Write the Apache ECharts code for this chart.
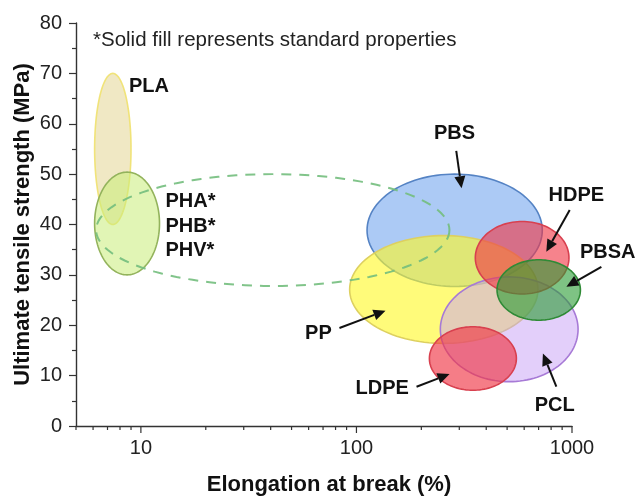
<!DOCTYPE html>
<html>
<head>
<meta charset="utf-8">
<script src="https://cdn.jsdelivr.net/npm/echarts@6/dist/echarts.min.js"></script>
<style>html,body{margin:0;padding:0;background:#fff;}#chart{width:638px;height:496px;}</style>
</head>
<body>
<div id="chart"></div>
<script>
// ---- data ----
const materials   = ['PLA', 'PHA', 'PBS', 'PP', 'PCL', 'HDPE', 'PBSA', 'LDPE'];
const elongMin    = [6.1, 6.1, 112, 93, 245, 356, 449, 218];
const elongMax    = [9.0, 12.2, 728, 695, 1067, 968, 1094, 552];
const strengthMin = [40, 30, 27.7, 16.4, 8.8, 26.2, 21.0, 7.1];
const strengthMax = [70, 50.4, 50.0, 37.8, 29.6, 40.6, 33.0, 19.7];

// non-standard PHA range (dashed)
const dashedElong    = [6.2, 270];
const dashedStrength = [27.8, 50];

// labels
const labelText = ['PLA', 'PHA*', 'PHB*', 'PHV*', 'PBS', 'HDPE', 'PBSA', 'PP', 'LDPE', 'PCL'];
const labelX    = [8.8, 13, 13, 13, 285, 1048, 1465, 66.6, 131.6, 831];
const labelY    = [67.3, 44.5, 39.7, 34.9, 58.0, 45.7, 34.4, 18.4, 7.35, 4.17];
const labelAlign = ['left', 'left', 'left', 'left', 'center', 'center', 'center', 'center', 'center', 'center'];

// arrows (from label to ellipse)
const arrowFromX = [290.4, 975.7, 1369, 83.4, 190, 846];
const arrowFromY = [54.6, 42.9, 31.6, 19.45, 7.8, 7.8];
const arrowToX   = [307.4, 760, 942, 136.4, 270.4, 733];
const arrowToY   = [47.2, 34.6, 27.65, 22.9, 10.3, 14.4];

// axis ticks
const xMajorTicks = [10, 100, 1000];
const xMinorTicks = [5, 6, 7, 8, 9, 20, 30, 40, 50, 60, 70, 80, 90, 200, 300, 400, 500, 600, 700, 800, 900];

// ---- styles ----
const fills = ['rgba(222,205,125,0.45)', 'rgba(200,236,120,0.55)', 'rgba(90,150,235,0.5)', 'rgba(255,248,40,0.62)',
               'rgba(200,160,245,0.5)', 'rgba(240,55,70,0.62)', 'rgba(40,155,50,0.6)', 'rgba(240,55,70,0.65)'];
const strokes = ['rgba(240,225,110,0.9)', '#93b35c', '#5583c4', '#ddd060', '#a77ad6', '#d8404f', '#2f8a36', '#d8404f'];

const FONT = '"Liberation Sans", Arial, sans-serif';

function ellipsePoints(api, x0, x1, y0, y1) {
  const p0 = api.coord([x0, y0]);
  const p1 = api.coord([x1, y1]);
  const cx = (p0[0] + p1[0]) / 2, cy = (p0[1] + p1[1]) / 2;
  const rx = Math.abs(p1[0] - p0[0]) / 2, ry = Math.abs(p1[1] - p0[1]) / 2;
  const pts = [];
  for (let i = 0; i < 120; i++) {
    const t = i / 120 * Math.PI * 2;
    pts.push([cx + rx * Math.cos(t), cy + ry * Math.sin(t)]);
  }
  return pts;
}

const ellipseData = materials.map((m, i) => [elongMin[i], elongMax[i], strengthMin[i], strengthMax[i]]);
const order = [0, 1, 2, 3];      // drawn before dashed
const order2 = [4, 5, 6, 7];     // drawn after dashed

function ellipseSeries(idx, name) {
  return {
    type: 'custom', name: name, clip: false, silent: true,
    encode: { x: [0, 1], y: [2, 3] },
    data: idx.map(i => ellipseData[i].concat([i])),
    renderItem: function (params, api) {
      const k = api.value(4);
      return {
        type: 'polygon',
        shape: { points: ellipsePoints(api, api.value(0), api.value(1), api.value(2), api.value(3)) },
        style: { fill: fills[k], stroke: strokes[k], lineWidth: 1.6 }
      };
    }
  };
}

const chart = echarts.init(document.getElementById('chart'), null, { renderer: 'canvas' });

chart.setOption({
  animation: false,
  backgroundColor: '#fff',
  title: {
    text: '*Solid fill represents standard properties',
    left: 88, top: 25,
    textStyle: { fontFamily: FONT, fontSize: 20.5, fontWeight: 'normal', color: '#222' }
  },
  grid: { left: 76, right: 66, top: 23, bottom: 70, containLabel: false, outerBoundsMode: 'none' },
  xAxis: {
    type: 'log', logBase: 10, min: 5, max: 1000,
    name: 'Elongation at break (%)', nameLocation: 'middle', nameGap: 48,
    nameTextStyle: { fontFamily: FONT, fontSize: 22, fontWeight: 'bold', color: '#111', padding: [0, 0, 0, 10] },
    axisLine: { show: true, lineStyle: { color: '#333', width: 1.4 } },
    axisTick: { show: false },
    minorTick: { show: false },
    splitLine: { show: false },
    axisLabel: {
      fontFamily: FONT, fontSize: 20, color: '#222', margin: 12,
      showMinLabel: false, showMaxLabel: true,
      formatter: function (v) {
        const l = Math.log10(v);
        return Math.abs(l - Math.round(l)) < 1e-6 ? String(Math.round(v)) : '';
      }
    }
  },
  yAxis: {
    type: 'value', min: 0, max: 80, interval: 10,
    name: 'Ultimate tensile strength (MPa)', nameLocation: 'middle', nameGap: 42, nameRotate: 90,
    nameMoveOverlap: false,
    nameTextStyle: { fontFamily: FONT, fontSize: 22, fontWeight: 'bold', color: '#111' },
    axisLine: { show: true, lineStyle: { color: '#333', width: 1.4 } },
    axisTick: { show: true, inside: false, length: 7, lineStyle: { color: '#333', width: 1.2 } },
    minorTick: { show: true, splitNumber: 2, length: 4, lineStyle: { color: '#333', width: 1.2 } },
    splitLine: { show: false },
    axisLabel: { fontFamily: FONT, fontSize: 20, color: '#222', margin: 14 }
  },
  series: [
    ellipseSeries(order, 'standard-1'),
    {
      type: 'custom', name: 'PHA non-standard', clip: false, silent: true,
      encode: { x: [0, 1], y: [2, 3] },
      data: [[dashedElong[0], dashedElong[1], dashedStrength[0], dashedStrength[1]]],
      renderItem: function (params, api) {
        return {
          type: 'polygon',
          shape: { points: ellipsePoints(api, api.value(0), api.value(1), api.value(2), api.value(3)) },
          style: { fill: 'none', stroke: 'rgba(115,190,125,0.9)', lineWidth: 2, lineDash: [10, 8] }
        };
      }
    },
    ellipseSeries(order2, 'standard-2'),
    {
      type: 'custom', name: 'ticks', clip: false, silent: true,
      encode: { x: 0, y: 1 },
      data: xMajorTicks.map(v => [v, 0, 7]).concat(xMinorTicks.map(v => [v, 0, 4])),
      renderItem: function (params, api) {
        const p = api.coord([api.value(0), api.value(1)]);
        const len = api.value(2);
        return {
          type: 'line',
          shape: { x1: p[0], y1: p[1], x2: p[0], y2: p[1] + len },
          style: { stroke: '#333', lineWidth: 1.2 }
        };
      }
    },
    {
      type: 'custom', name: 'arrows', clip: false, silent: true,
      encode: { x: [0, 2], y: [1, 3] },
      data: arrowFromX.map((v, i) => [v, arrowFromY[i], arrowToX[i], arrowToY[i]]),
      renderItem: function (params, api) {
        const a = api.coord([api.value(0), api.value(1)]);
        const b = api.coord([api.value(2), api.value(3)]);
        const dx = b[0] - a[0], dy = b[1] - a[1];
        const L = Math.sqrt(dx * dx + dy * dy);
        const ux = dx / L, uy = dy / L, nx = -uy, ny = ux;
        const hl = 12, hw = 5.5;
        const bx = b[0] - ux * hl, by = b[1] - uy * hl;
        return {
          type: 'group',
          children: [
            { type: 'line', shape: { x1: a[0], y1: a[1], x2: bx, y2: by }, style: { stroke: '#111', lineWidth: 2 } },
            { type: 'polygon', shape: { points: [[b[0], b[1]], [bx + nx * hw, by + ny * hw], [bx - nx * hw, by - ny * hw]] },
              style: { fill: '#111' } }
          ]
        };
      }
    },
    {
      type: 'custom', name: 'labels', clip: false, silent: true,
      encode: { x: 0, y: 1 },
      data: labelText.map((t, i) => [labelX[i], labelY[i], i]),
      renderItem: function (params, api) {
        const p = api.coord([api.value(0), api.value(1)]);
        const k = api.value(2);
        return {
          type: 'text', x: p[0], y: p[1],
          style: {
            text: labelText[k], fill: '#111',
            font: 'bold 20px ' + FONT,
            align: labelAlign[k], verticalAlign: 'middle'
          }
        };
      }
    }
  ]
});
</script>
</body>
</html>
